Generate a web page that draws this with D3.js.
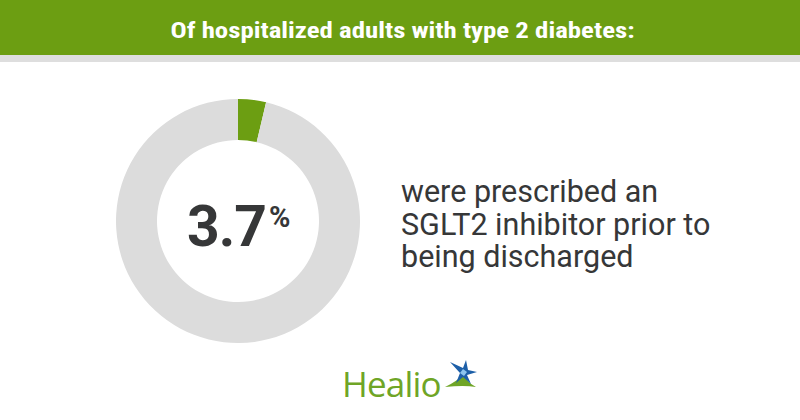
<!DOCTYPE html>
<html><head><meta charset="utf-8">
<script src="https://cdn.jsdelivr.net/npm/d3@7"></script>
<style>html,body{margin:0;padding:0;background:#fff;}svg{display:block;}</style>
</head><body>
<svg id="chart" width="800" height="420"></svg>
<script>
const title = "Of hospitalized adults with type 2 diabetes:";
const categories = ["Prescribed SGLT2 inhibitor", "Not prescribed"];
const values = [3.7, 96.3];
const valueLabel = "3.7";
const captionLines = ["were prescribed an", "SGLT2 inhibitor prior to", "being discharged"];
const brand = "Healio";

const svg = d3.select("#chart");
const green = "#6c9e12";
const ringGrey = "#dcdcdc";
const textDark = "#363738";

// Banner
svg.append("rect").attr("x",0).attr("y",0).attr("width",800).attr("height",55).attr("fill",green);
svg.append("rect").attr("x",0).attr("y",55).attr("width",800).attr("height",7).attr("fill","#dedede");
svg.append("text").attr("x",170.5).attr("y",38)
  .attr("font-family","'Roboto Condensed','Liberation Sans Narrow',Roboto,sans-serif")
  .attr("font-weight","bold").attr("font-size",22.5).attr("fill","#fff")
  .attr("textLength",464).attr("lengthAdjust","spacingAndGlyphs")
  .text(title);

// Donut
const cx = 238, cy = 221;
const color = d3.scaleOrdinal().domain(categories).range([green, ringGrey]);
const pie = d3.pie().sort(null).value(d => d.v);
const arc = d3.arc().innerRadius(81).outerRadius(122);
const data = categories.map((c,i)=>({c, v: values[i]}));
const g = svg.append("g").attr("transform",`translate(${cx},${cy})`);
g.selectAll("path").data(pie(data)).join("path")
  .attr("d", arc).attr("fill", d => color(d.data.c));

// Center value
const vt = svg.append("text").attr("x",187).attr("y",246)
  .attr("font-family","Roboto,sans-serif").attr("font-weight","bold").attr("fill",textDark);
vt.append("tspan").attr("font-size",57).attr("letter-spacing",-1).text(valueLabel);
vt.append("tspan").attr("font-size",29).attr("dy",-19).attr("dx",3).text("%");

// Caption
const ct = svg.append("text").attr("font-family","Roboto,sans-serif").attr("font-size",30.5).attr("fill",textDark);
captionLines.forEach((l,i)=>{
  ct.append("tspan").attr("x",401).attr("y",202 + i*32.5).text(l);
});

// Logo
svg.append("text").attr("x",342).attr("y",397)
  .attr("font-family","'Open Sans',Roboto,sans-serif").attr("font-size",35).attr("fill","#6fa526")
  .attr("letter-spacing",-0.8)
  .text(brand);
// star mark
const lg = svg.append("g").attr("transform","translate(462,372)");
lg.append("path").attr("fill","#6fa526")
  .attr("d","M-17,15 Q-6,10 2,2 Q4,10 14,15 Q2,13 -17,15 Z");
lg.append("path").attr("fill","#1d5fa8")
  .attr("d","M-12,-10 L1,-4 L4,-12 L6,-2 L15,0 L5,3 L9,12 L1,5 L-6,11 L-2,1 Z");
lg.append("path").attr("fill","#8cc4ee")
  .attr("d","M-2,1 L1,-3 L5,0 L2,4 Z");
</script>
</body></html>
